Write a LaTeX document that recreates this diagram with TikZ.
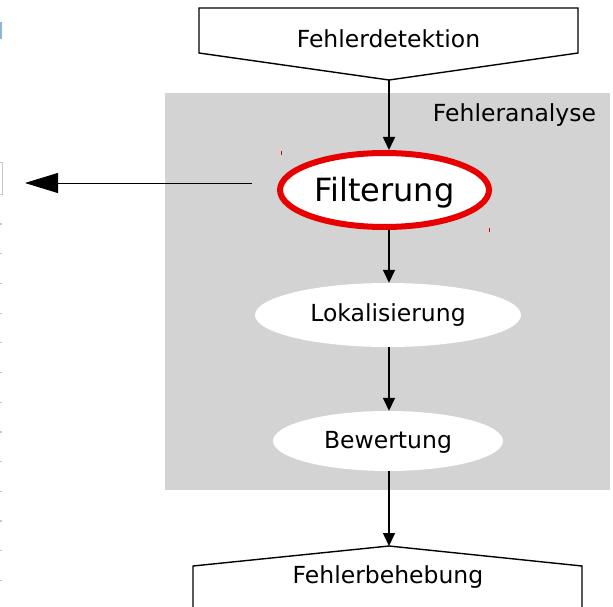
\documentclass[tikz,border=0pt]{standalone}
\usepackage{fontspec}
\setmainfont{DejaVu Sans}
\usetikzlibrary{arrows.meta,shapes.geometric}
\definecolor{panelgray}{RGB}{211,211,211}
\definecolor{markred}{RGB}{232,0,0}
\definecolor{tabblue}{RGB}{140,180,225}
\definecolor{tickgray}{RGB}{200,200,200}
\begin{document}
\begin{tikzpicture}[x=1pt,y=-1pt,
  flow/.style={-{Triangle[length=13pt,width=12pt]}, line width=1.6pt},
  outflow/.style={-{Triangle[length=33pt,width=20pt]}, line width=0.9pt},
  stage/.style={ellipse, fill=white, inner sep=0pt, text height=17.9pt, text depth=4pt,
    font=\fontsize{23.5}{28}\selectfont},
  caption/.style={anchor=base, inner sep=0pt, font=\fontsize{23.5}{28}\selectfont},
  frame/.style={line width=1.4pt, line join=miter}
]
\useasboundingbox (0,0) rectangle (613,607);

% analysis panel
\node[fill=panelgray, inner sep=0pt, minimum width=445pt, minimum height=397pt,
  anchor=north west] (panel) at (165,93) {};
\node[caption] (paneltitle) at (514.5,122) {Fehleranalyse};

% top block: detection
\draw[frame, fill=white] (199,8) -- (578,8) -- (578,53) -- (389,80) -- (199,53) -- cycle;
\coordinate (dettip) at (389,80);
\node[caption] (det) at (388.5,48) {Fehlerdetektion};

% bottom block: repair
\draw[frame, fill=white] (193,609) -- (193,566) -- (389,546) -- (582,566) -- (582,609);
\coordinate (fixtip) at (389,546);
\node[caption] (fix) at (388,583) {Fehlerbehebung};

% analysis steps
\node[stage, draw=markred, line width=6pt, minimum width=209pt, minimum height=74pt,
  text height=24.3pt, text depth=2.3pt,
  font=\fontsize{32}{38}\selectfont] (filt) at (384.5,190) {Filterung};
\node[stage, minimum width=266pt, minimum height=64pt, text depth=5.6pt] (lok) at (388,315) {Lokalisierung};
\node[stage, minimum width=230pt, minimum height=60pt, text depth=2pt] (bew) at (388,441) {Bewertung};

% flow arrows
\draw[flow] (dettip) -- (dettip |- filt.north);
\draw[flow] (dettip |- filt.south) -- (dettip |- lok.north);
\draw[flow] (dettip |- lok.south) -- (dettip |- bew.north);
\draw[flow] (dettip |- bew.south) -- (fixtip);

% outgoing arrow to the left
\coordinate (outstart) at (252,183);
\coordinate (outend) at (25,183);
\draw[outflow] (outstart) -- (outend);

% selection handles
\draw[markred, line width=0.8pt] (281,151) -- (281,155);
\draw[markred, line width=0.8pt] (489,228) -- (489,232);

% left margin marks
\fill[tabblue] (0,22) rectangle (2,39);
\draw[tickgray, line width=0.6pt] (-1,162) rectangle (2,194);
\foreach \yy in {224,253.7,283.4,313.1,342.8,372.5,402.2,431.9,461.6,491.3,521,550.7,580.4}
  \fill[tickgray] (0,\yy-0.6) rectangle (2,\yy+0.6);
\end{tikzpicture}
\end{document}
